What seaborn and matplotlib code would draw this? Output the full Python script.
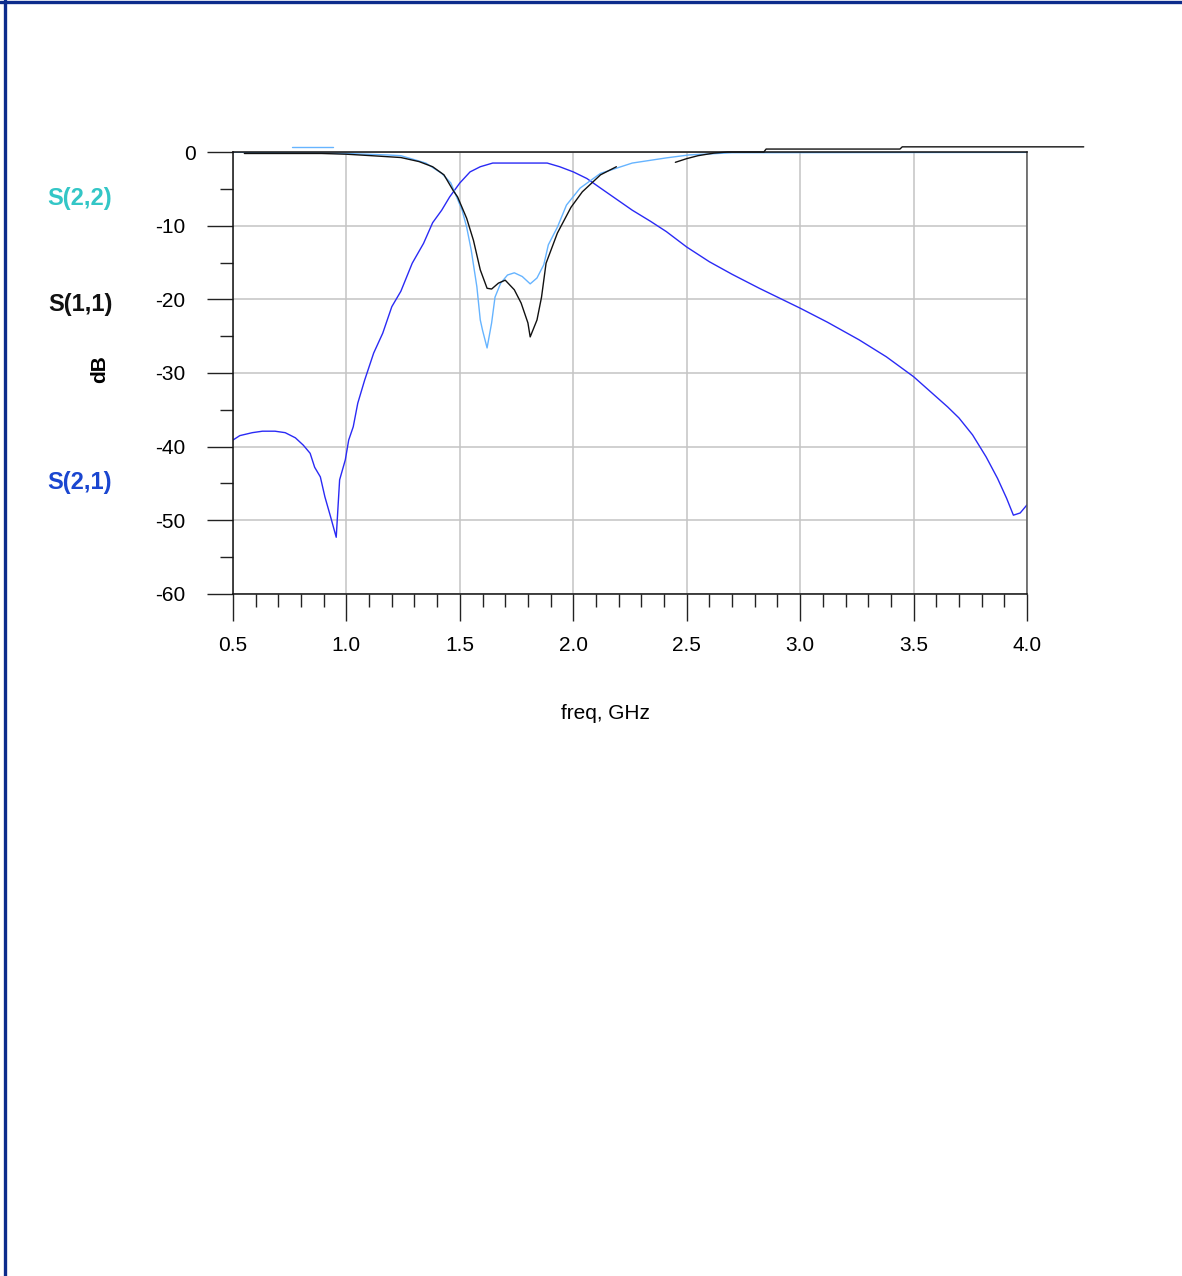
import numpy as np
import pandas as pd
import seaborn as sns
import matplotlib.pyplot as plt
from matplotlib.lines import Line2D
from matplotlib.ticker import MultipleLocator
from matplotlib.transforms import ScaledTranslation

# S(2,1) transmission, dB
freq_s21 = [0.50, 0.53, 0.585, 0.63, 0.685, 0.73, 0.775, 0.81, 0.84, 0.86, 0.885, 0.905,
            0.93, 0.955, 0.97, 0.995, 1.01, 1.03, 1.05, 1.08, 1.12, 1.16, 1.20, 1.24,
            1.29, 1.34, 1.38, 1.42, 1.455, 1.50, 1.545, 1.59, 1.645, 1.885, 1.94, 2.00,
            2.06, 2.12, 2.19, 2.26, 2.34, 2.41, 2.50, 2.60, 2.70, 2.82, 3.00, 3.12,
            3.26, 3.38, 3.50, 3.65, 3.70, 3.76, 3.82, 3.87, 3.91, 3.94, 3.97, 4.00]
s21_db = [-39.1, -38.5, -38.1, -37.9, -37.9, -38.1, -38.8, -39.8, -40.9, -42.8, -44.1, -46.8,
          -49.5, -52.3, -44.5, -41.8, -39.1, -37.3, -34.1, -31.0, -27.3, -24.6, -21.0, -18.9,
          -15.1, -12.4, -9.6, -7.9, -6.1, -4.2, -2.7, -2.0, -1.5, -1.5, -2.0, -2.7,
          -3.6, -4.9, -6.4, -7.9, -9.4, -10.8, -12.9, -14.9, -16.6, -18.5, -21.2, -23.1,
          -25.5, -27.8, -30.5, -34.6, -36.1, -38.4, -41.4, -44.3, -47.0, -49.3, -49.0, -47.9]

# S(1,1) reflection, dB (NaN = gap in the trace)
freq_s11 = [0.55, 0.89, 1.00, 1.11, 1.24, 1.32, 1.38, 1.43, 1.47, 1.49, 1.53, 1.56, 1.59,
            1.62, 1.64, 1.67, 1.70, 1.74, 1.77, 1.80, 1.81, 1.84, 1.86, 1.88, 1.93, 1.99,
            2.04, 2.12, 2.19, 2.30, 2.45, 2.50, 2.55, 2.62, 2.68, 2.84, 2.85, 3.44, 3.45, 4.25]
s11_db = [-0.2, -0.2, -0.3, -0.5, -0.75, -1.3, -2.0, -3.1, -5.2, -6.1, -9.0, -12.0, -16.0,
          -18.5, -18.6, -17.8, -17.4, -18.7, -20.5, -23.2, -25.1, -22.8, -19.7, -15.1, -11.0, -7.5,
          -5.4, -3.1, -2.0, np.nan, -1.4, -0.9, -0.5, -0.15, 0.0, 0.0, 0.4, 0.4, 0.7, 0.7]

# S(2,2) reflection, dB
freq_s22 = [0.50, 0.68, 0.89, 1.00, 1.18, 1.24, 1.35, 1.42, 1.46, 1.51, 1.53, 1.55, 1.575,
            1.59, 1.60, 1.62, 1.64, 1.655, 1.68, 1.71, 1.74, 1.775, 1.81, 1.84, 1.87, 1.89,
            1.93, 1.97, 2.03, 2.12, 2.26, 2.41, 2.51, 2.70, 4.00]
s22_db = [0.0, -0.1, -0.15, -0.2, -0.4, -0.5, -1.5, -2.9, -4.2, -7.9, -10.2, -13.3, -18.3,
          -22.8, -24.2, -26.6, -23.2, -19.7, -17.8, -16.7, -16.4, -16.9, -17.9, -17.1, -15.3, -12.6,
          -10.2, -7.2, -4.9, -2.9, -1.5, -0.8, -0.4, -0.1, -0.05]
freq_s22_spur = [0.76, 0.94]
s22_spur_db = [0.7, 0.7]

x_ticks = [0.5, 1.0, 1.5, 2.0, 2.5, 3.0, 3.5, 4.0]
y_ticks = [0, -10, -20, -30, -40, -50, -60]

c_s21 = "#2a2af5"
c_s11 = "#111111"
c_s22 = "#66b4ff"

sns.set_style("white")
plt.rcParams["font.family"] = ["Liberation Sans", "DejaVu Sans"]

W, H = 1182, 1276
fig = plt.figure(figsize=(W / 100, H / 100), dpi=100)
ax = fig.add_axes([233 / W, 1 - 594 / H, (1027 - 233) / W, (594 - 152) / H])


def draw(f, v, color, clip=True):
    df = pd.DataFrame({"f": f, "v": v})
    seg = df["v"].isna().cumsum()
    for _, part in df.dropna().groupby(seg[df["v"].notna()]):
        sns.lineplot(data=part, x="f", y="v", ax=ax, color=color, lw=1.0,
                     estimator=None, sort=False)
        ax.lines[-1].set_clip_on(clip)


draw(freq_s21, s21_db, c_s21)
draw(freq_s22, s22_db, c_s22)
draw(freq_s22_spur, s22_spur_db, c_s22, clip=False)
draw(freq_s11, s11_db, c_s11, clip=False)

ax.set_xlim(0.5, 4.0)
ax.set_ylim(-60, 0)
ax.set_xticks(x_ticks)
ax.set_xticklabels([f"{t:.1f}" for t in x_ticks])
ax.set_yticks(y_ticks)
ax.set_yticklabels([str(t) for t in y_ticks])
ax.xaxis.set_minor_locator(MultipleLocator(0.1))
ax.yaxis.set_minor_locator(MultipleLocator(5))

ax.grid(True, which="major", color="#c4c4c4", lw=1.1)
ax.tick_params(axis="y", which="major", direction="out", length=18.7, width=1.0,
               color="#222222", pad=15.5, labelsize=15, labelcolor="black", left=True)
ax.tick_params(axis="y", which="minor", direction="out", length=9.4, width=1.0,
               color="#222222", left=True)
ax.tick_params(axis="x", which="major", direction="out", length=19.4, width=1.0,
               color="#222222", pad=11, labelsize=15, labelcolor="black", bottom=True)
ax.tick_params(axis="x", which="minor", direction="out", length=9.4, width=1.0,
               color="#222222", bottom=True)

for side in ["left", "bottom", "top"]:
    ax.spines[side].set_color("#111111")
    ax.spines[side].set_linewidth(1.1)
ax.spines["right"].set_color("#555555")
ax.spines["right"].set_linewidth(1.1)

# the "0" label sits a bit further right in the original (first fixed tick is 0)
zero_tick = ax.yaxis.get_major_ticks()[0]
zero_tick.label1.set_transform(zero_tick.label1.get_transform()
                               + ScaledTranslation(0.10, 0, fig.dpi_scale_trans))

ax.set_xlabel("freq, GHz", fontsize=15, color="black")
ax.xaxis.set_label_coords((605 - 233) / 794, (594 - 704) / 442)
ax.set_ylabel("dB", fontsize=15, fontweight="bold", color="black")
ax.yaxis.set_label_coords((109 - 233) / 794, (594 - 369) / 442)

# trace labels on the left
for name, y, col in [("S(2,2)", 199, "#33c6c6"), ("S(1,1)", 305, "#111111"),
                     ("S(2,1)", 483, "#1a46d0")]:
    fig.text(80 / W, 1 - y / H, name, fontsize=17, fontweight="bold", color=col,
             ha="center", va="center")

# page frame (top and left edges)
frame = "#0c2c8c"
fig.add_artist(Line2D([0, 1], [1 - 1.5 / H] * 2, transform=fig.transFigure, color=frame, lw=2.4))
fig.add_artist(Line2D([4.5 / W] * 2, [0, 1], transform=fig.transFigure, color=frame, lw=2.4))

fig.savefig("out.png", dpi=100)
